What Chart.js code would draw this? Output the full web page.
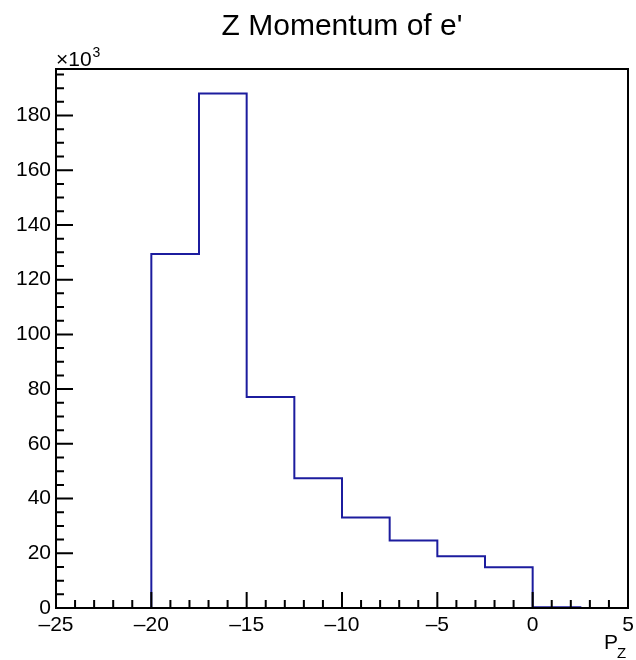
<!DOCTYPE html>
<html>
<head>
<meta charset="utf-8">
<script src="https://cdn.jsdelivr.net/npm/chart.js@4/dist/chart.umd.min.js"></script>
<style>
  html, body { margin: 0; padding: 0; background: #fff; }
  .wrap { width: 636px; height: 660px; }
</style>
</head>
<body>
<div class="wrap"><canvas id="hist" width="636" height="660"></canvas></div>
<script>
// histogram bins (edges) and counts in units of 10^3
const binEdges = [-25, -22.5, -20, -17.5, -15, -12.5, -10, -7.5, -5, -2.5, 0, 2.5, 5];
const counts = [0, 0, 129.4, 188, 77.1, 47.4, 33.1, 24.7, 18.9, 14.9, 0.3, 0];
const xTicks = [-25, -20, -15, -10, -5, 0, 5];
const yTicks = [0, 20, 40, 60, 80, 100, 120, 140, 160, 180];

const FONT = '"Liberation Sans", Arial, sans-serif';

// step points: each bin's left edge with its count, plus closing point
const points = counts.map((c, i) => ({ x: binEdges[i], y: c }));
points.push({ x: binEdges[binEdges.length - 1], y: counts[counts.length - 1] });

// ROOT-style frame, inward ticks, title and extra labels
const rootAxes = {
  id: 'rootAxes',
  afterDraw(chart) {
    const { ctx, chartArea: a, scales } = chart;
    const x = scales.x, y = scales.y;
    ctx.save();
    ctx.strokeStyle = '#000';
    ctx.lineWidth = 2;
    ctx.strokeRect(a.left, a.top, a.right - a.left, a.bottom - a.top);

    ctx.beginPath();
    for (let v = -25; v <= 5; v += 1) {
      const px = x.getPixelForValue(v);
      const len = v % 5 === 0 ? 16 : 8;
      ctx.moveTo(px, a.bottom);
      ctx.lineTo(px, a.bottom - len);
    }
    for (let v = 0; v <= 195; v += 5) {
      const py = y.getPixelForValue(v);
      const len = v % 20 === 0 ? 17 : 8;
      ctx.moveTo(a.left, py);
      ctx.lineTo(a.left + len, py);
    }
    ctx.stroke();

    ctx.fillStyle = '#000';
    ctx.textBaseline = 'alphabetic';

    // title, centred on the frame
    ctx.textAlign = 'center';
    ctx.font = '30px ' + FONT;
    ctx.fillText("Z Momentum of e'", (a.left + a.right) / 2, 35);

    // exponent label
    ctx.textAlign = 'left';
    ctx.font = '21px ' + FONT;
    ctx.fillText('\u00d710', a.left, a.top - 3);
    const w = ctx.measureText('\u00d710').width;
    ctx.font = '14px ' + FONT;
    ctx.fillText('3', a.left + w + 1, a.top - 12);

    // axis title P_Z
    ctx.font = '21px ' + FONT;
    ctx.fillText('P', 604, 649);
    ctx.font = '15px ' + FONT;
    ctx.fillText('Z', 617, 658);
    ctx.restore();
  }
};

new Chart(document.getElementById('hist'), {
  type: 'line',
  data: {
    datasets: [{
      data: points,
      stepped: 'before',
      borderColor: '#1c1c9e',
      borderWidth: 2,
      pointRadius: 0,
      fill: false,
      tension: 0
    }]
  },
  options: {
    responsive: false,
    animation: false,
    layout: { padding: { left: 0, right: 8, top: 69, bottom: 0 } },
    plugins: {
      legend: { display: false },
      tooltip: { enabled: false },
      title: { display: false }
    },
    scales: {
      x: {
        type: 'linear',
        min: -25,
        max: 5,
        afterBuildTicks: (s) => { s.ticks = xTicks.map(v => ({ value: v })); },
        afterFit: (s) => { s.height = 52; s.paddingLeft = 0; s.paddingRight = 0; },
        grid: { display: false, drawTicks: false },
        border: { display: false },
        ticks: {
          padding: 5,
          color: '#000',
          font: { family: FONT, size: 21 },
          maxRotation: 0,
          callback: (v) => (v < 0 ? '\u2013' + Math.abs(v) : String(v))
        }
      },
      y: {
        type: 'linear',
        min: 0,
        max: 197,
        afterBuildTicks: (s) => { s.ticks = yTicks.map(v => ({ value: v })); },
        afterFit: (s) => { s.width = 56; s.paddingTop = 0; s.paddingBottom = 0; },
        grid: { display: false, drawTicks: false },
        border: { display: false },
        ticks: {
          padding: 5,
          color: '#000',
          font: { family: FONT, size: 21 },
          callback: (v) => String(v)
        }
      }
    }
  },
  plugins: [rootAxes]
});
</script>
</body>
</html>
